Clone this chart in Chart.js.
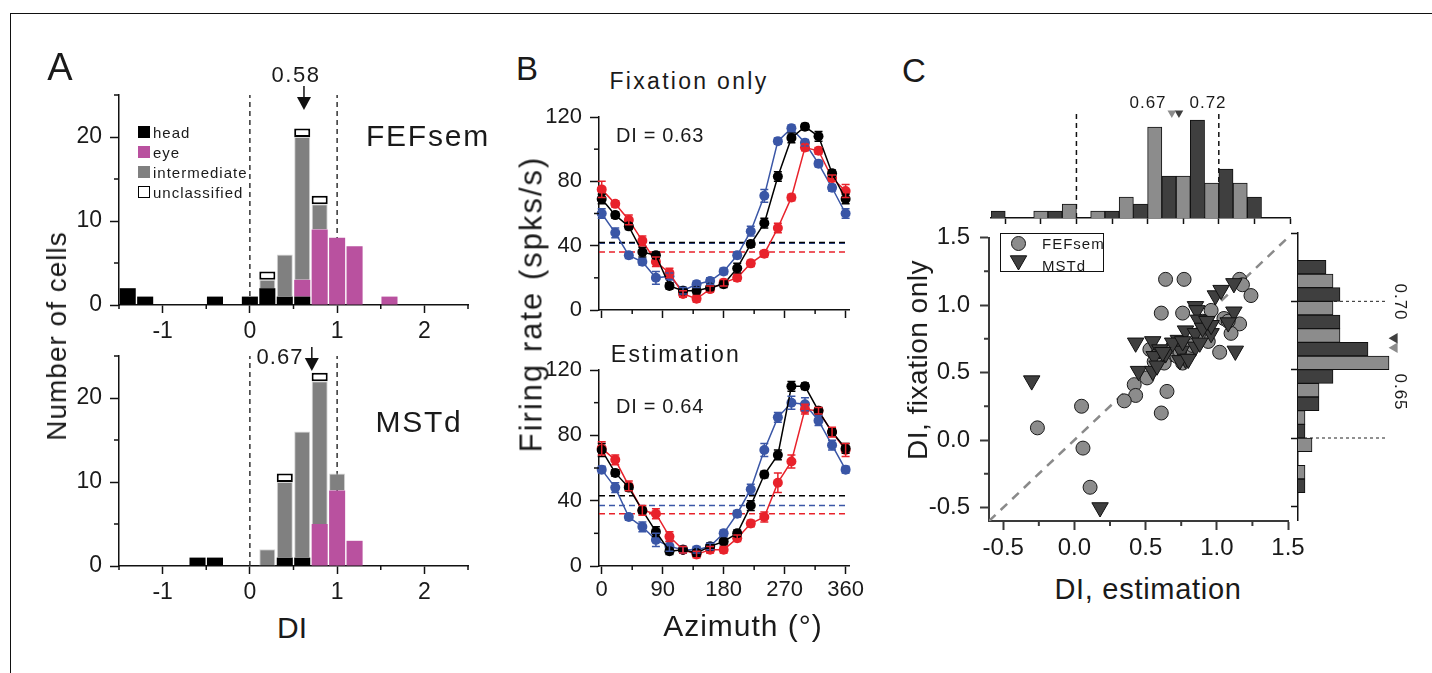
<!DOCTYPE html>
<html>
<head>
<meta charset="utf-8">
<script src="https://cdn.jsdelivr.net/npm/chart.js@4.4.1/dist/chart.umd.min.js"></script>
<style>
  body { margin: 0; background: #fff; }
  #fig { position: relative; width: 1432px; height: 673px; overflow: hidden;
         font-family: 'Liberation Sans', Arial, sans-serif; color: #1a1a1a; }
  .frame { position: absolute; left: 10px; top: 13px; right: -5px; bottom: -5px;
           border-top: 1.5px solid #111; border-left: 1.5px solid #111; }
  .t { position: absolute; white-space: nowrap; line-height: 1; }
</style>
</head>
<body>
<div id="fig"><div class="frame"></div></div>
<script>
// ---- Panel A: DI histograms (bin centres, counts per cell type) ----
const diBins   = [-1.4, -1.2, -0.6, -0.4, 0, 0.2, 0.4, 0.6, 0.8, 1.0, 1.2, 1.6];
const fefHead  = [2, 1, 0, 1, 1, 2, 1, 1, 0, 0, 0, 0];
const fefEye   = [0, 0, 0, 0, 0, 0, 0, 2, 9, 8, 7, 1];
const fefInter = [0, 0, 0, 0, 0, 1, 5, 17, 3, 0, 0, 0];
const fefUncl  = [0, 0, 0, 0, 0, 1, 0, 1, 1, 0, 0, 0];
const mstHead  = [0, 0, 1, 1, 0, 0, 1, 1, 0, 0, 0, 0];
const mstEye   = [0, 0, 0, 0, 0, 0, 0, 0, 5, 9, 3, 0];
const mstInter = [0, 0, 0, 0, 0, 2, 9, 15, 17, 2, 0, 0];
const mstUncl  = [0, 0, 0, 0, 0, 0, 1, 0, 1, 0, 0, 0];
const cellTypes = ['head', 'eye', 'intermediate', 'unclassified'];
const diGuides = [0, 1];
const arrowAt = [0.62, 0.71];          // where the median arrows sit
const diTicks = [-1, 0, 1, 2];
const diMinor = [-1.5, -0.5, 0.5, 1.5, 2.5];
const countTicks = [0, 10, 20];
const countMinor = [5, 15, 25];

// ---- Panel B: tuning curves ----
const azimuth  = [0, 20, 40, 60, 80, 100, 120, 140, 160, 180, 200, 220, 240, 260, 280, 300, 320, 340, 360];
const fixBlack = [69, 59, 52, 36, 34, 15, 12, 12, 14, 16, 26, 41, 54, 83, 107, 114, 108, 85, 69];
const fixBlue  = [60, 48, 34, 30, 20, 21, 12, 16, 18, 24, 34, 49, 71, 105, 113, 104, 91, 76, 60];
const fixRed   = [75, 66, 56, 43, 30, 23, 10, 7, 13, 17, 20, 29, 35, 51, 70, 101, 99, 82, 74];
const estBlack = [71, 57, 48, 34, 21, 9, 10, 8, 12, 15, 20, 37, 56, 68, 110, 110, 95, 82, 72];
const estBlue  = [59, 48, 30, 24, 16, 12, 10, 10, 12, 20, 32, 47, 71, 91, 100, 99, 89, 74, 59];
const estRed   = [72, 65, 49, 34, 32, 18, 10, 7, 10, 10, 17, 26, 30, 51, 64, 96, 95, 82, 71];
const fixErrBlack = [3, 2, 2, 3, 2, 2, 2, 2, 2, 2, 3, 2, 3, 3, 3, 2, 3, 2, 3];
const fixErrBlue  = [3, 3, 2, 2, 4, 2, 2, 2, 2, 2, 2, 3, 4, 2, 2, 2, 2, 2, 3];
const fixErrRed   = [5, 2, 3, 3, 3, 3, 2, 2, 2, 2, 2, 2, 2, 3, 2, 2, 2, 2, 4];
const estErrBlack = [4, 2, 2, 2, 3, 2, 2, 2, 2, 2, 2, 3, 2, 3, 3, 2, 2, 2, 3];
const estErrBlue  = [2, 3, 2, 3, 4, 3, 2, 2, 2, 2, 2, 3, 4, 3, 4, 4, 3, 3, 2];
const estErrRed   = [4, 3, 3, 3, 3, 3, 2, 2, 2, 2, 2, 2, 3, 6, 4, 3, 2, 3, 4];
const fixBaseline = [42, 41.5, 36];    // black, blue, red
const estBaseline = [43, 37, 32];
const azTicks = [0, 90, 180, 270, 360];
const azMinor = [45, 135, 225, 315];
const rateTicks = [0, 40, 80, 120];
const rateMinor = [20, 60, 100];

// ---- Panel C: DI estimation vs fixation ----
const fefEstDI = [0.64, 0.77, 1.16, 1.18, 1.24, 0.61, 0.76, 0.96, 1.05, 1.16, 1.10, 1.02, 0.94, 0.87, 0.76, 0.65, 0.53, 0.56, 0.63, 0.58, 0.72, 0.80, 0.51, 0.42, 0.43, 0.35, 0.65, 0.61, 0.05, -0.26, 0.06, 0.11, 0.90, 1.08, 0.69, 0.74, 0.83];
const fefFixDI = [1.19, 1.19, 1.19, 1.15, 1.07, 0.94, 0.94, 0.96, 0.90, 0.86, 0.79, 0.65, 0.73, 0.78, 0.57, 0.62, 0.67, 0.58, 0.57, 0.63, 0.62, 0.64, 0.46, 0.41, 0.33, 0.29, 0.36, 0.20, 0.25, 0.09, -0.06, -0.35, 0.88, 0.88, 0.69, 0.66, 0.70];
const mstEstDI = [-0.30, 0.18, 0.43, 0.55, 0.45, 0.55, 0.60, 0.56, 0.64, 0.73, 0.75, 0.78, 0.85, 0.86, 0.87, 0.78, 0.85, 0.85, 0.96, 0.96, 0.99, 1.03, 1.12, 1.12, 1.08, 1.13, 0.69, 0.74, 0.80, 0.90, 0.93, 0.58, 0.62, 0.76, 0.88];
const mstFixDI = [0.44, -0.50, 0.72, 0.73, 0.51, 0.51, 0.67, 0.62, 0.64, 0.74, 0.66, 0.60, 0.99, 0.96, 0.89, 0.81, 0.79, 0.69, 0.79, 0.85, 1.07, 1.11, 1.16, 0.95, 0.87, 0.66, 0.72, 0.59, 0.60, 0.83, 0.88, 0.55, 0.65, 0.73, 0.72];
const topDarkX  = [-0.55, -0.15, 0.25, 0.45, 0.65, 0.85, 1.05, 1.25];
const topDarkN  = [1, 1, 1, 2, 6, 14, 7, 3];
const topLightX = [-0.25, -0.05, 0.15, 0.35, 0.55, 0.75, 0.95, 1.15];
const topLightN = [1, 2, 1, 3, 13, 6, 5, 5];
const topMedians = [0.67, 0.72];       // light, dark
const sideDarkY  = [1.25, 1.05, 0.85, 0.65, 0.45, 0.25, 0.05, -0.35];
const sideDarkN  = [4, 6, 6, 10, 5, 3, 1, 1];
const sideLightY = [1.15, 0.95, 0.75, 0.55, 0.35, 0.15, -0.05, -0.25];
const sideLightN = [5, 5, 6, 13, 3, 1, 2, 1];
const sideMedians = [0.73, 0.66];      // dark, light
const sideGuides = [1.0, 0.0];
const ciTicks = [-0.5, 0, 0.5, 1.0, 1.5];
const ciMinor = [-0.25, 0.25, 0.75, 1.25];
const ciHistTicks = [-0.5, -0.25, 0, 0.25, 0.5, 0.75, 1.0, 1.25, 1.5];

Chart.defaults.font.family = "'Liberation Sans', Arial, sans-serif";
Chart.defaults.color = '#1a1a1a';
Chart.defaults.animation = false;
Chart.defaults.plugins.legend.display = false;
Chart.defaults.plugins.tooltip.enabled = false;

const fig = document.getElementById('fig');
const DARK = '#3f3f3f', LIGHT = '#8c8c8c';
const BLACK = '#000000', BLUE = '#3a56a6', RED = '#e8222b';

function text(str, x, y, size, opt = {}) {
  const d = document.createElement('div');
  d.className = 't';
  d.textContent = str;
  d.style.left = x + 'px';
  d.style.top = y + 'px';
  d.style.fontSize = size + 'px';
  if (opt.ls) d.style.letterSpacing = opt.ls + 'px';
  const ax = opt.align === 'left' ? '0' : '-50%';
  d.style.transform = `translate(${ax},-50%)` + (opt.rot ? ` rotate(${opt.rot}deg)` : '');
  fig.appendChild(d);
  return d;
}

// canvas placed so that the chart area lands on box (page pixels)
function mount(box, pad) {
  const left = box.l - pad.l, top = box.t - pad.t;
  const w = box.r - box.l + pad.l + pad.r, h = box.b - box.t + pad.t + pad.b;
  const c = document.createElement('canvas');
  c.width = w; c.height = h;
  c.style.cssText = `position:absolute;left:${left}px;top:${top}px;width:${w}px;height:${h}px`;
  fig.appendChild(c);
  return c;
}

function axis(o) {
  return {
    type: 'linear', position: o.pos, min: o.min, max: o.max, offset: false,
    display: o.display !== false,
    stacked: !!o.stacked,
    afterBuildTicks: s => { s.ticks = o.ticks.map(v => ({ value: v })); },
    afterFit: s => {
      if (o.size != null) { if (s.isHorizontal()) s.height = o.size; else s.width = o.size; }
      s.paddingLeft = s.paddingRight = s.paddingTop = s.paddingBottom = 0;
    },
    grid: { display: true, drawOnChartArea: false, drawTicks: true, offset: false,
            tickLength: o.len, tickWidth: o.width || 1.5, tickColor: o.color || '#111', color: o.color || '#111' },
    border: { display: true, color: o.color || '#111', width: o.width || 1.5 },
    ticks: { display: !!o.fmt, autoSkip: false, maxRotation: 0, minRotation: 0,
             padding: o.pad || 0, color: '#1a1a1a', font: { size: o.font || 22 },
             callback: v => (o.fmt ? o.fmt(v) : '') }
  };
}

function minorTicks(list) {
  return {
    id: 'minorTicks',
    afterDraw(chart) {
      const ctx = chart.ctx, a = chart.chartArea;
      list.forEach(m => {
        const s = chart.scales[m.id];
        ctx.save();
        ctx.strokeStyle = m.color || '#111';
        ctx.lineWidth = m.width || 1.5;
        m.values.forEach(v => {
          const p = s.getPixelForValue(v);
          ctx.beginPath();
          if (s.isHorizontal()) { ctx.moveTo(p, a.bottom); ctx.lineTo(p, a.bottom + m.len); }
          else { ctx.moveTo(a.left, p); ctx.lineTo(a.left - m.len, p); }
          ctx.stroke();
        });
        ctx.restore();
      });
    }
  };
}

function medianArrow(value) {
  return {
    id: 'medianArrow',
    afterDatasetsDraw(chart) {
      const ctx = chart.ctx, top = chart.chartArea.top;
      const x = chart.scales.x.getPixelForValue(value);
      ctx.save();
      ctx.strokeStyle = '#111'; ctx.fillStyle = '#111'; ctx.lineWidth = 1.5;
      ctx.beginPath(); ctx.moveTo(x, top - 9); ctx.lineTo(x, top + 4); ctx.stroke();
      ctx.beginPath(); ctx.moveTo(x - 7, top + 2); ctx.lineTo(x + 7, top + 2); ctx.lineTo(x, top + 15);
      ctx.closePath(); ctx.fill();
      ctx.restore();
    }
  };
}

function errorBars(errSets) {
  return {
    id: 'errorBars',
    afterDatasetsDraw(chart) {
      const ctx = chart.ctx, ys = chart.scales.y;
      errSets.forEach((errs, di) => {
        const ds = chart.data.datasets[di];
        const meta = chart.getDatasetMeta(di);
        ctx.save();
        ctx.strokeStyle = ds.borderColor; ctx.lineWidth = 1.5;
        meta.data.forEach((pt, j) => {
          const v = ds.data[j].y, e = errs[j];
          const y1 = ys.getPixelForValue(v + e), y2 = ys.getPixelForValue(v - e);
          ctx.beginPath();
          ctx.moveTo(pt.x, y1); ctx.lineTo(pt.x, y2);
          ctx.moveTo(pt.x - 4, y1); ctx.lineTo(pt.x + 4, y1);
          ctx.moveTo(pt.x - 4, y2); ctx.lineTo(pt.x + 4, y2);
          ctx.stroke();
        });
        ctx.restore();
      });
    }
  };
}

// ---------- Panel A ----------
function histA(box, head, eye, inter, uncl, arrowValue) {
  const pad = { l: 75, t: 50, r: 20, b: 45 }, yW = 60, xH = 40;
  const canvas = mount(box, pad);
  const xy = arr => diBins.map((b, i) => ({ x: b, y: arr[i] || null }));
  const barOpts = { barPercentage: 0.92, categoryPercentage: 1 };
  new Chart(canvas, {
    type: 'bar',
    data: {
      datasets: [
        { label: cellTypes[0], data: xy(head), backgroundColor: '#000', borderWidth: 0, ...barOpts },
        { label: cellTypes[1], data: xy(eye), backgroundColor: '#b9519f', borderWidth: 0, ...barOpts },
        { label: cellTypes[2], data: xy(inter), backgroundColor: '#808080', borderColor: '#d6d6d6', borderWidth: 1, ...barOpts },
        { label: cellTypes[3], data: xy(uncl), backgroundColor: '#fff', borderColor: '#000', borderWidth: 2, borderSkipped: false, ...barOpts },
        ...diGuides.map(g => ({
          type: 'line', data: [{ x: g, y: 0 }, { x: g, y: 25 }], yAxisID: 'yg',
          borderColor: '#333', borderWidth: 1.5, borderDash: [5, 4], pointRadius: 0
        }))
      ]
    },
    options: {
      responsive: false,
      layout: { padding: { left: pad.l - yW, top: pad.t, right: pad.r, bottom: pad.b - xH } },
      scales: {
        x: axis({ pos: 'bottom', min: -1.5, max: 2.5, ticks: diTicks, fmt: v => String(v), len: 8, pad: 5, font: 23, size: xH, stacked: true }),
        y: axis({ pos: 'left', min: 0, max: 25, ticks: countTicks, fmt: v => String(v), len: 9, pad: 8, font: 23, size: yW, stacked: true }),
        yg: { type: 'linear', display: false, min: 0, max: 25 }
      }
    },
    plugins: [
      minorTicks([{ id: 'x', values: diMinor, len: 4 }, { id: 'y', values: countMinor, len: 5 }]),
      medianArrow(arrowValue)
    ]
  });
}
histA({ l: 119, t: 95, r: 468, b: 305 }, fefHead, fefEye, fefInter, fefUncl, arrowAt[0]);
histA({ l: 119, t: 356, r: 468, b: 566 }, mstHead, mstEye, mstInter, mstUncl, arrowAt[1]);

// ---------- Panel B ----------
function tuning(box, curves, errs, baselines, showX) {
  const pad = { l: 65, t: 10, r: 30, b: 45 }, yW = 60, xH = showX ? 40 : 12;
  const canvas = mount(box, pad);
  const colors = [BLACK, BLUE, RED];
  const order = [1, 3, 2];
  const xMin = -4, xMax = 365;
  new Chart(canvas, {
    type: 'line',
    data: {
      datasets: [
        ...curves.map((vals, k) => ({
          data: azimuth.map((a, i) => ({ x: a, y: vals[i] })),
          borderColor: colors[k], backgroundColor: colors[k], pointBackgroundColor: colors[k],
          borderWidth: 1.5, pointRadius: 5, pointBorderWidth: 0, tension: 0, order: order[k], clip: false
        })),
        ...baselines.map((b, k) => ({
          data: [{ x: xMin, y: b }, { x: xMax, y: b }],
          borderColor: colors[k], borderWidth: 1.5, borderDash: [6, 4], pointRadius: 0, order: 10
        }))
      ]
    },
    options: {
      responsive: false,
      layout: { padding: { left: pad.l - yW, top: pad.t, right: pad.r, bottom: pad.b - xH } },
      scales: {
        x: axis({ pos: 'bottom', min: xMin, max: xMax, ticks: azTicks, fmt: showX ? (v => String(v)) : null, len: 8, pad: 3, font: 22, size: xH }),
        y: axis({ pos: 'left', min: 0, max: 120, ticks: rateTicks, fmt: v => String(v), len: 9, pad: 8, font: 22, size: yW })
      }
    },
    plugins: [
      minorTicks([{ id: 'x', values: azMinor, len: 4 }, { id: 'y', values: rateMinor, len: 5 }]),
      errorBars(errs)
    ]
  });
}
tuning({ l: 599, t: 117, r: 849, b: 310 }, [fixBlack, fixBlue, fixRed], [fixErrBlack, fixErrBlue, fixErrRed], fixBaseline, false);
tuning({ l: 599, t: 370, r: 849, b: 566 }, [estBlack, estBlue, estRed], [estErrBlack, estErrBlue, estErrRed], estBaseline, true);

// ---------- Panel C: scatter ----------
(function () {
  const box = { l: 989, t: 232, r: 1288, b: 521 };
  const pad = { l: 80, t: 5, r: 30, b: 50 }, yW = 70, xH = 45;
  const canvas = mount(box, pad);
  const fmt = v => v.toFixed(1);
  new Chart(canvas, {
    type: 'scatter',
    data: {
      datasets: [
        { data: mstEstDI.map((x, i) => ({ x, y: mstFixDI[i] })), pointStyle: 'triangle', rotation: 180,
          pointRadius: 9.5, backgroundColor: DARK, borderColor: '#111', borderWidth: 1, order: 1, clip: false },
        { data: fefEstDI.map((x, i) => ({ x, y: fefFixDI[i] })), pointStyle: 'circle',
          pointRadius: 7, backgroundColor: LIGHT, borderColor: '#1a1a1a', borderWidth: 1, order: 2, clip: false },
        { type: 'line', data: [{ x: -0.6, y: -0.6 }, { x: 1.5, y: 1.5 }], borderColor: '#8a8a8a',
          borderWidth: 2.5, borderDash: [9, 7], pointRadius: 0, order: 10 }
      ]
    },
    options: {
      responsive: false,
      layout: { padding: { left: pad.l - yW, top: pad.t, right: pad.r, bottom: pad.b - xH } },
      scales: {
        x: axis({ pos: 'bottom', min: -0.6, max: 1.5, ticks: ciTicks, fmt, len: 9, pad: 4, font: 24, size: xH, color: '#3a3a3a', width: 2 }),
        y: axis({ pos: 'left', min: -0.6, max: 1.5, ticks: ciTicks, fmt, len: 9, pad: 10, font: 24, size: yW, color: '#3a3a3a', width: 2 })
      }
    },
    plugins: [minorTicks([{ id: 'x', values: ciMinor, len: 5, color: '#3a3a3a', width: 2 },
                          { id: 'y', values: ciMinor, len: 5, color: '#3a3a3a', width: 2 }])]
  });
})();

// ---------- Panel C: top histogram (estimation DI) ----------
(function () {
  const box = { l: 991, t: 113, r: 1290, b: 218 };
  const pad = { l: 5, t: 10, r: 10, b: 12 }, xH = 8;
  const canvas = mount(box, pad);
  const barOpts = { grouped: false, barPercentage: 1, categoryPercentage: 1, borderWidth: 1, borderColor: '#111' };
  new Chart(canvas, {
    type: 'bar',
    data: {
      datasets: [
        { data: topDarkX.map((x, i) => ({ x, y: topDarkN[i] })), backgroundColor: DARK, ...barOpts },
        { data: topLightX.map((x, i) => ({ x, y: topLightN[i] })), backgroundColor: LIGHT, ...barOpts },
        ...diGuides.map(g => ({ type: 'line', data: [{ x: g, y: 0 }, { x: g, y: 15 }], borderColor: '#111',
          borderWidth: 1.5, borderDash: [5, 4], pointRadius: 0, clip: false })),
        ...topMedians.map((m, k) => ({ type: 'scatter', data: [{ x: m, y: 15 }], pointStyle: 'triangle', rotation: 180,
          pointRadius: 5, backgroundColor: k ? DARK : LIGHT, borderColor: k ? DARK : LIGHT, borderWidth: 0, clip: false }))
      ]
    },
    options: {
      responsive: false,
      layout: { padding: { left: pad.l, top: pad.t, right: pad.r, bottom: pad.b - xH } },
      scales: {
        x: axis({ pos: 'bottom', min: -0.6, max: 1.5, ticks: ciHistTicks, fmt: null, len: 6, size: xH }),
        y: { type: 'linear', display: false, min: 0, max: 15 }
      }
    }
  });
})();

// ---------- Panel C: side histogram (fixation DI) ----------
(function () {
  const box = { l: 1298, t: 232, r: 1403, b: 521 };
  const pad = { l: 10, t: 5, r: 20, b: 5 }, yW = 8;
  const canvas = mount(box, pad);
  const barOpts = { grouped: false, barPercentage: 1, categoryPercentage: 1, borderWidth: 1, borderColor: '#111' };
  new Chart(canvas, {
    type: 'bar',
    data: {
      datasets: [
        { data: sideDarkY.map((y, i) => ({ x: sideDarkN[i], y })), backgroundColor: DARK, ...barOpts },
        { data: sideLightY.map((y, i) => ({ x: sideLightN[i], y })), backgroundColor: LIGHT, ...barOpts },
        ...sideGuides.map(g => ({ type: 'line', data: [{ x: 0, y: g }, { x: 12.7, y: g }], borderColor: '#222',
          borderWidth: 1, borderDash: [3, 3], pointRadius: 0 })),
        ...sideMedians.map((m, k) => ({ type: 'scatter', data: [{ x: 13.8, y: m }], pointStyle: 'triangle', rotation: 270,
          pointRadius: 6, backgroundColor: k ? LIGHT : DARK, borderWidth: 0, clip: false }))
      ]
    },
    options: {
      responsive: false,
      indexAxis: 'y',
      layout: { padding: { left: pad.l - yW, top: pad.t, right: pad.r, bottom: pad.b } },
      scales: {
        x: { type: 'linear', display: false, min: 0, max: 15 },
        y: axis({ pos: 'left', min: -0.6, max: 1.5, ticks: ciTicks, fmt: null, len: 7, size: yW })
      }
    }
  });
})();

// ---------- text ----------
text('A', 60, 67, 38);
text('B', 527, 68, 33);
text('C', 914, 70, 33);

text('FEFsem', 428, 136, 30, { ls: 1.8 });
text('MSTd', 419, 422, 30, { ls: 1.7 });
text('0.58', 296, 75, 22, { ls: 1.5 });
text('0.67', 280, 357, 22, { ls: 1 });
text('Number of cells', 57, 336, 28, { rot: -90, ls: 1 });
text('DI', 292, 628, 30);

const cellColors = ['#000', '#b9519f', '#808080', '#fff'];
cellTypes.forEach((name, i) => {
  const cy = 132 + i * 20;
  const sw = document.createElement('div');
  sw.style.cssText = `position:absolute;left:138px;top:${cy - 6}px;width:12px;height:12px;box-sizing:border-box;background:${cellColors[i]};` +
    (i === 3 ? 'border:1.5px solid #000;' : '');
  fig.appendChild(sw);
  text(name, 153, cy, 15, { align: 'left', ls: 1 });
});

text('Fixation only', 689, 81, 23, { ls: 2.3 });
text('Estimation', 676, 354, 23, { ls: 2.3 });
text('DI = 0.63', 616, 135, 20, { align: 'left', ls: 0.7 });
text('DI = 0.64', 616, 406, 20, { align: 'left', ls: 0.7 });
text('Firing rate (spks/s)', 531, 304, 31, { rot: -90, ls: 2 });
text('Azimuth (°)', 743, 626, 30, { ls: 1 });

text('DI, fixation only', 918, 360, 28, { rot: -90, ls: 0.5 });
text('DI, estimation', 1148, 589, 29, { ls: 0.7 });
text('0.67', 1148, 102, 17, { ls: 1 });
text('0.72', 1208, 102, 17, { ls: 1 });
text('0.70', 1400, 302, 17, { rot: 90, ls: 1 });
text('0.65', 1400, 392, 17, { rot: 90, ls: 1 });

// scatter legend
const lg = document.createElement('div');
lg.style.cssText = 'position:absolute;left:1000px;top:233px;width:104px;height:39px;box-sizing:border-box;border:1px solid #111;background:#fff;';
lg.innerHTML = '<svg width="102" height="37" style="position:absolute;left:0;top:0">' +
  `<circle cx="17.5" cy="9.5" r="7" fill="${LIGHT}" stroke="#1a1a1a" stroke-width="1"/>` +
  `<polygon points="9.3,26.4 25.7,26.4 17.5,40.6" transform="translate(0,-4.6)" fill="${DARK}" stroke="#111" stroke-width="1"/>` +
  '</svg>';
fig.appendChild(lg);
text('FEFsem', 1042, 243, 15, { align: 'left', ls: 1 });
text('MSTd', 1042, 265, 15, { align: 'left', ls: 1 });
</script>
</body>
</html>
